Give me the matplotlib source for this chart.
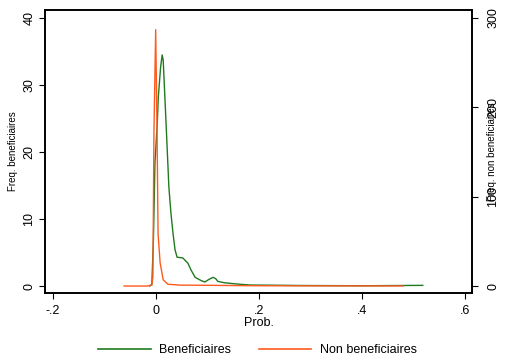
import numpy as np
import matplotlib.pyplot as plt
from matplotlib.lines import Line2D

plt.rcParams['font.family'] = ['Liberation Sans', 'DejaVu Sans']

# densities
# Beneficiaires (left axis)
x_benef = [-0.012, -0.008, -0.005, -0.002, 0.0025, 0.0045, 0.009, 0.012, 0.014, 0.0175,
           0.021, 0.025, 0.029, 0.033, 0.037, 0.041, 0.052, 0.062, 0.068, 0.076,
           0.088, 0.095, 0.103, 0.111, 0.116, 0.120, 0.132, 0.144, 0.165, 0.183,
           0.231, 0.28, 0.40, 0.518]
y_benef = [0.0, 0.3, 6.9, 18.4, 24.3, 28.2, 32.7, 34.5, 33.7, 27.8,
           21.8, 14.8, 10.9, 7.9, 5.4, 4.3, 4.2, 3.4, 2.4, 1.3,
           0.8, 0.6, 1.0, 1.3, 1.1, 0.7, 0.5, 0.4, 0.25, 0.15,
           0.12, 0.08, 0.04, 0.1]

# Non beneficiaires (right axis)
x_non = [-0.062, -0.017, -0.008, -0.006, -0.004, -0.0006, 0.002, 0.004, 0.008,
         0.014, 0.023, 0.047, 0.1, 0.2, 0.3, 0.48]
y_non = [0.0, 0.0, 1.0, 10.0, 171.0, 287.0, 178.0, 59.0, 26.0,
         7.0, 2.0, 1.0, 0.8, 0.3, 0.2, 0.1]

green = '#1f7a1f'
orange = '#ff5a1e'

fig = plt.figure(figsize=(5.05, 3.64), dpi=100)
ax = fig.add_axes([45/505, 1-293/364, (472-45)/505, (293-10)/364])
ax2 = ax.twinx()

ax.plot(x_benef, y_benef, color=green, lw=1)
ax2.plot(x_non, y_non, color=orange, lw=1)

ax.set_xlim(-0.2155, 0.6136)
ax.set_ylim(-1.04, 41.2)
ax2.set_ylim(-1.04*7.5, 41.2*7.5)

ax.set_xticks([-0.2, 0, 0.2, 0.4, 0.6])
ax.set_xticklabels(['-.2', '0', '.2', '.4', '.6'], fontsize=9)
ax.set_yticks([0, 10, 20, 30, 40])
ax.set_yticklabels(['0', '10', '20', '30', '40'], fontsize=9, rotation=90, va='center')
ax2.set_yticks([0, 100, 200, 300])
ax2.set_yticklabels(['0', '100', '200', '300'], fontsize=9, rotation=90, va='center')

for a in (ax, ax2):
    a.tick_params(length=4, width=0.8, color='black', pad=3)
    for s in a.spines.values():
        s.set_linewidth(1.2)
ax.tick_params(axis='x', pad=5)
ax2.tick_params(axis='y', pad=7)

ax.set_xlabel('Prob.', fontsize=9, labelpad=0)
ax.set_ylabel('Freq. beneficiaires', fontsize=7)
ax.yaxis.set_label_coords(-0.063, 0.5)
ax2.set_ylabel('Freq. non beneficiaires', fontsize=7)
ax2.yaxis.set_label_coords(1.035, 0.5)

handles = [Line2D([], [], color=green, lw=1.2), Line2D([], [], color=orange, lw=1.2)]
fig.legend(handles, ['Beneficiaires', 'Non beneficiaires'], loc='center',
           bbox_to_anchor=(0.51, 1-350/364), ncol=2, frameon=False, fontsize=9,
           handlelength=4.2, columnspacing=2.2, handletextpad=0.7)

fig.savefig('out.png', dpi=100)
